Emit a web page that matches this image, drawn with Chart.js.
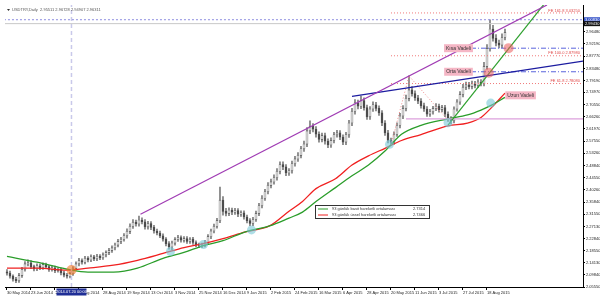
<!DOCTYPE html>
<html lang="tr">
<head>
<meta charset="utf-8">
<title>USDTRY Daily</title>
<script src="https://cdn.jsdelivr.net/npm/chart.js@4.4.1/dist/chart.umd.min.js"></script>
<style>
  html, body { margin: 0; padding: 0; background: #fff; }
  #wrap { width: 600px; height: 297px; position: relative; }
</style>
</head>
<body>
<div id="wrap"><canvas id="usdtryChart"></canvas></div>
<script>
// usdtry daily chart

// candles, one every 2 trading days (bar index = 2 * k)
const opens = [
  2.110,2.105,2.094,2.083,2.078,2.096,2.118,2.138,2.142,2.128,
  2.120,2.131,2.124,2.135,2.128,2.118,2.124,2.114,2.118,2.106,
  2.098,2.094,2.103,2.122,2.138,2.150,2.144,2.158,2.152,2.163,
  2.156,2.165,2.160,2.170,2.178,2.186,2.195,2.205,2.218,2.226,
  2.238,2.254,2.272,2.286,2.280,2.294,2.288,2.270,2.282,2.268,
  2.255,2.248,2.238,2.226,2.210,2.198,2.212,2.225,2.232,2.222,
  2.228,2.218,2.226,2.214,2.206,2.204,2.205,2.215,2.235,2.255,
  2.272,2.292,2.365,2.325,2.318,2.330,2.322,2.328,2.315,2.320,
  2.305,2.292,2.282,2.296,2.318,2.345,2.372,2.395,2.418,2.430,
  2.445,2.468,2.492,2.484,2.462,2.470,2.495,2.512,2.525,2.548,
  2.565,2.612,2.628,2.618,2.600,2.582,2.595,2.575,2.562,2.578,
  2.598,2.605,2.590,2.572,2.598,2.640,2.682,2.712,2.700,2.720,
  2.695,2.662,2.690,2.705,2.692,2.676,2.640,2.605,2.578,2.572,
  2.600,2.632,2.665,2.692,2.728,2.758,2.745,2.730,2.718,2.702,
  2.690,2.672,2.680,2.692,2.700,2.688,2.695,2.672,2.655,2.648,
  2.690,2.715,2.742,2.768,2.776,2.770,2.780,2.774,2.786,2.780,
  2.842,2.905,2.975,2.942,2.925,2.918,2.945
];
const highs = [
  2.118,2.112,2.099,2.090,2.104,2.126,2.146,2.152,2.150,2.134,
  2.138,2.137,2.142,2.141,2.133,2.131,2.130,2.124,2.123,2.112,
  2.104,2.109,2.128,2.145,2.158,2.156,2.165,2.164,2.170,2.168,
  2.172,2.171,2.177,2.184,2.193,2.202,2.212,2.225,2.233,2.246,
  2.263,2.281,2.296,2.294,2.308,2.302,2.296,2.290,2.289,2.275,
  2.262,2.255,2.245,2.232,2.217,2.219,2.232,2.240,2.238,2.235,
  2.235,2.232,2.233,2.220,2.212,2.212,2.222,2.242,2.262,2.280,
  2.300,2.412,2.378,2.336,2.338,2.337,2.336,2.335,2.327,2.327,
  2.312,2.299,2.304,2.326,2.354,2.381,2.404,2.428,2.440,2.455,
  2.478,2.502,2.502,2.492,2.478,2.504,2.521,2.535,2.557,2.576,
  2.624,2.648,2.638,2.627,2.609,2.604,2.604,2.584,2.587,2.607,
  2.614,2.613,2.598,2.607,2.650,2.692,2.724,2.722,2.736,2.730,
  2.704,2.699,2.716,2.714,2.701,2.684,2.649,2.614,2.586,2.609,
  2.641,2.675,2.702,2.740,2.808,2.770,2.755,2.739,2.727,2.711,
  2.699,2.689,2.700,2.709,2.708,2.703,2.703,2.680,2.663,2.698,
  2.724,2.752,2.778,2.786,2.785,2.790,2.789,2.795,2.795,2.856,
  2.920,3.008,2.988,2.955,2.936,2.958,2.975
];
const lows = [
  2.098,2.087,2.076,2.071,2.072,2.090,2.112,2.131,2.121,2.113,
  2.114,2.117,2.118,2.121,2.111,2.112,2.107,2.108,2.099,2.091,
  2.087,2.088,2.097,2.116,2.131,2.137,2.138,2.145,2.146,2.149,
  2.149,2.153,2.154,2.163,2.171,2.179,2.188,2.198,2.210,2.219,
  2.230,2.246,2.264,2.272,2.272,2.280,2.262,2.262,2.260,2.247,
  2.241,2.231,2.219,2.202,2.190,2.189,2.205,2.218,2.215,2.215,
  2.211,2.211,2.207,2.199,2.196,2.196,2.198,2.208,2.228,2.248,
  2.265,2.285,2.312,2.309,2.310,2.313,2.314,2.306,2.307,2.297,
  2.284,2.274,2.274,2.289,2.310,2.337,2.364,2.387,2.409,2.422,
  2.436,2.459,2.474,2.452,2.453,2.461,2.486,2.503,2.516,2.539,
  2.556,2.602,2.608,2.590,2.572,2.573,2.565,2.552,2.553,2.569,
  2.590,2.581,2.563,2.563,2.589,2.631,2.672,2.690,2.691,2.686,
  2.653,2.653,2.681,2.683,2.667,2.631,2.596,2.569,2.562,2.564,
  2.592,2.623,2.656,2.683,2.719,2.736,2.721,2.709,2.693,2.681,
  2.664,2.664,2.672,2.684,2.679,2.680,2.663,2.646,2.638,2.640,
  2.682,2.706,2.733,2.759,2.762,2.762,2.765,2.766,2.772,2.772,
  2.832,2.896,2.932,2.915,2.908,2.909,2.936
];
const closes = [
  2.105,2.094,2.083,2.078,2.096,2.118,2.138,2.142,2.128,2.120,
  2.131,2.124,2.135,2.128,2.118,2.124,2.114,2.118,2.106,2.098,
  2.094,2.103,2.122,2.138,2.150,2.144,2.158,2.152,2.163,2.156,
  2.165,2.160,2.170,2.178,2.186,2.195,2.205,2.218,2.226,2.238,
  2.254,2.272,2.286,2.280,2.294,2.288,2.270,2.282,2.268,2.255,
  2.248,2.238,2.226,2.210,2.198,2.212,2.225,2.232,2.222,2.228,
  2.218,2.226,2.214,2.206,2.204,2.205,2.215,2.235,2.255,2.272,
  2.292,2.365,2.325,2.318,2.330,2.322,2.328,2.315,2.320,2.305,
  2.292,2.282,2.296,2.318,2.345,2.372,2.395,2.418,2.430,2.445,
  2.468,2.492,2.484,2.462,2.470,2.495,2.512,2.525,2.548,2.565,
  2.612,2.628,2.618,2.600,2.582,2.595,2.575,2.562,2.578,2.598,
  2.605,2.590,2.572,2.598,2.640,2.682,2.712,2.700,2.720,2.695,
  2.662,2.690,2.705,2.692,2.676,2.640,2.605,2.578,2.572,2.600,
  2.632,2.665,2.692,2.728,2.758,2.745,2.730,2.718,2.702,2.690,
  2.672,2.680,2.692,2.700,2.688,2.695,2.672,2.655,2.648,2.690,
  2.715,2.742,2.768,2.776,2.770,2.780,2.774,2.786,2.780,2.842,
  2.905,2.975,2.942,2.925,2.918,2.945,2.963
];
const bars = closes.map((c, k) => k * 2);

// 93 day moving averages
const maBars = [0,20,40,54,71,87,104,118,131,144,159,175,188,197,206,219,230,241,252,263,276,294,307,316,323,332];
const smaValues = [2.1648,2.1438,2.1192,2.1087,2.1087,2.1227,2.1577,2.1787,2.2032,2.2207,2.2522,2.2732,2.3012,2.3223,2.3600,2.4098,2.4518,2.4903,2.5400,2.6000,2.6320,2.6547,2.6687,2.6862,2.7037,2.7314];
const emaValues = [2.1227,2.1227,2.1157,2.1227,2.1332,2.1507,2.1752,2.1962,2.2102,2.2277,2.2522,2.2732,2.3257,2.3607,2.4062,2.4412,2.4902,2.5230,2.5500,2.5777,2.5987,2.6302,2.6400,2.6600,2.6950,2.7466];

// axis labels
const tickBars = [0,16,32,48,64,80,96,112,128,144,160,176,192,208,224,240,256,272,288,304,320];
const tickDates = ['30 May 2014','23 Jun 2014','15 Jul 2014','6 Aug 2014','28 Aug 2014','19 Sep 2014','13 Oct 2014',
  '3 Nov 2014','25 Nov 2014','16 Dec 2014','9 Jan 2015','2 Feb 2015','24 Feb 2015','16 Mar 2015','6 Apr 2015',
  '28 Apr 2015','20 May 2015','11 Jun 2015','3 Jul 2015','27 Jul 2015','18 Aug 2015'];
const priceTicks = [2.05550,2.09840,2.14130,2.18550,2.22840,2.27130,2.31550,2.35840,2.40260,2.44550,2.48840,
  2.53260,2.57550,2.61970,2.66260,2.70550,2.74970,2.79190,2.83480,2.87770,2.92190,2.96480];

// drawn objects
const purpleBars = [89, 360], purplePrices = [2.315, 3.061];
const blueBars = [230, 384], bluePrices = [2.735, 2.861];
const greenBars = [294, 360], greenPrices = [2.633, 3.077];
const zigzagBars = [256, 268, 296], zigzagPrices = [2.562, 2.808, 2.638];
const feLevels = ['61.8', '100.0', '161.8'];
const fePrices = [2.78080, 2.87980, 3.03250];
const noteTexts = ['Kısa Vadeli', 'Orta Vadeli', 'Uzun Vadeli'];
const noteBars = [301, 301, 342.4];
const notePrices = [2.9068, 2.8228, 2.7388];
const tealBars = [109, 131, 163, 255, 294, 322.5];
const tealPrices = [2.182, 2.207, 2.259, 2.564, 2.641, 2.711];
const redBars = [334.4, 321.2];
const redPrices = [2.907, 2.819];
const orangeBars = [43];
const orangePrices = [2.116];
const markerBar = 43;
const markerDate = '2014.07.20 00:00';
const highLine = 3.0083;
const askLine = 2.9943;
const supportLine = 2.6548;

const headerText = 'USDTRY,Daily  2.95511 2.96728 2.94907 2.96311';
const smaLabel = '93 günlük basit hareketli ortalaması';
const emaLabel = '93 günlük üssel hareketli ortalaması';

const X_MIN = -1.32, X_MAX = 384, Y_MIN = 2.0555, Y_MAX = 3.0608;
const FONT = '"Liberation Sans", Arial, sans-serif';

document.addEventListener('DOMContentLoaded', function() {
    initializeChart();
});

// Function to build a two point line dataset
function segment(xv, yv, color, width, dash, order) {
    return {
        type: 'line',
        data: xv.map((v, k) => ({x: v, y: yv[k]})),
        borderColor: color,
        borderWidth: width,
        borderDash: dash,
        pointRadius: 0,
        fill: false,
        tension: 0,
        order: order
    };
}

// Function to build circle markers
function circles(xv, yv, color, radius) {
    return {
        type: 'scatter',
        data: xv.map((v, k) => ({x: v, y: yv[k]})),
        backgroundColor: color,
        borderWidth: 0,
        pointRadius: radius,
        order: 0
    };
}

// Function to draw the texts and boxes on top
const overlayPlugin = {
    id: 'overlay',
    afterDraw(chart) {
        const ctx = chart.ctx;
        const xs = chart.scales.x, ys = chart.scales.y;
        const area = chart.chartArea;
        ctx.save();
        ctx.textBaseline = 'middle';

        // header
        ctx.fillStyle = '#333';
        ctx.beginPath();
        ctx.moveTo(area.left + 2, area.top + 4);
        ctx.lineTo(area.left + 5, area.top + 4);
        ctx.lineTo(area.left + 3.5, area.top + 6);
        ctx.fill();
        ctx.font = '4px ' + FONT;
        ctx.fillStyle = '#555';
        ctx.textAlign = 'left';
        ctx.fillText(headerText, area.left + 7, area.top + 5);

        // fibo expansion labels
        ctx.fillStyle = '#e04a4a';
        ctx.textAlign = 'right';
        fePrices.forEach((p, k) => {
            ctx.fillText('FE ' + feLevels[k] + ' ' + p.toFixed(5), area.right - 3, ys.getPixelForValue(p) - 2.5);
        });

        // notes
        ctx.font = '5px ' + FONT;
        ctx.textAlign = 'center';
        noteTexts.forEach((t, k) => {
            const cx = xs.getPixelForValue(noteBars[k]);
            const cy = ys.getPixelForValue(notePrices[k]);
            const w = ctx.measureText(t).width + 4;
            ctx.fillStyle = '#f5b6c5';
            ctx.fillRect(cx - w / 2, cy - 4, w, 8);
            ctx.fillStyle = '#333';
            ctx.fillText(t, cx, cy + 0.3);
        });

        // legend box
        const lx = area.left + 310, ly = area.top + 200;
        ctx.fillStyle = '#fff';
        ctx.fillRect(lx, ly, 115, 14);
        ctx.strokeStyle = '#333';
        ctx.lineWidth = 1;
        ctx.strokeRect(lx + 0.5, ly + 0.5, 114, 13);
        ctx.font = '4px ' + FONT;
        ctx.textAlign = 'left';
        [[smaLabel, smaValues, '#2a9d2a', 4], [emaLabel, emaValues, '#f02020', 10]].forEach(row => {
            ctx.strokeStyle = row[2];
            ctx.beginPath();
            ctx.moveTo(lx + 3, ly + row[3]);
            ctx.lineTo(lx + 13, ly + row[3]);
            ctx.stroke();
            ctx.fillStyle = '#333';
            ctx.fillText(row[0], lx + 17, ly + row[3]);
            ctx.fillText(row[1][row[1].length - 1].toFixed(4), lx + 98, ly + row[3]);
        });

        // price boxes on the axis
        [[highLine, '#3553c8'], [askLine, '#111']].forEach(m => {
            const py = ys.getPixelForValue(m[0]);
            ctx.fillStyle = m[1];
            ctx.fillRect(area.right + 1, py - 2.5, 16, 5);
            ctx.fillStyle = '#fff';
            ctx.fillText(m[0].toFixed(5), area.right + 2, py);
        });

        // date box on the time axis
        const mx = xs.getPixelForValue(markerBar);
        ctx.fillStyle = '#1f2e96';
        ctx.fillRect(mx - 15, area.bottom + 1.5, 30, 7);
        ctx.fillStyle = '#fff';
        ctx.textAlign = 'center';
        ctx.fillText(markerDate, mx, area.bottom + 5);
        ctx.restore();
    }
};

// Function to initialize the chart
function initializeChart() {
    const ctx = document.getElementById('usdtryChart').getContext('2d');
    const bodyColors = closes.map((c, k) => c >= opens[k] ? '#f4f4f4' : '#4a4a4a');

    const datasets = [
        circles(tealBars, tealPrices, 'rgba(120,200,215,0.6)', 4.5),
        circles(redBars, redPrices, 'rgba(235,90,90,0.55)', 5),
        circles(orangeBars, orangePrices, 'rgba(245,120,40,0.6)', 5),
        segment(purpleBars, purplePrices, '#a03cb4', 1.2, [], 2),
        segment(blueBars, bluePrices, '#1c1ca0', 1.2, [], 2),
        segment(greenBars, greenPrices, '#2ea02e', 1.2, [], 2),
        segment(zigzagBars, zigzagPrices, '#f08a8a', 1, [1, 2], 2),
        segment([-2, 390], [highLine, highLine], '#8c8ce0', 1, [2, 2], 3),
        segment([-2, 390], [askLine, askLine], '#c8c8c8', 1, [], 3),
        segment([296, 390], [notePrices[0], notePrices[0]], '#5a64dc', 1, [5, 2, 1, 2], 3),
        segment([296, 390], [notePrices[1], notePrices[1]], '#5a64dc', 1, [5, 2, 1, 2], 3),
        segment([266, 390], [supportLine, supportLine], '#dca0dc', 1.2, [], 3),
        segment([markerBar, markerBar], [Y_MIN, Y_MAX], '#c9c9ea', 1.5, [4, 3], 3)
    ];
    fePrices.forEach(p => datasets.push(segment([256, 390], [p, p], '#f07878', 1, [1, 2], 3)));

    datasets.push({
        type: 'line',
        data: maBars.map((b, k) => ({x: b, y: smaValues[k]})),
        borderColor: '#2a9d2a',
        borderWidth: 1.3,
        pointRadius: 0,
        cubicInterpolationMode: 'monotone',
        order: 5
    });
    datasets.push({
        type: 'line',
        data: maBars.map((b, k) => ({x: b, y: emaValues[k]})),
        borderColor: '#f02020',
        borderWidth: 1.3,
        pointRadius: 0,
        cubicInterpolationMode: 'monotone',
        order: 5
    });
    datasets.push({
        type: 'bar',
        data: bars.map((b, k) => ({x: b, y: [opens[k], closes[k]]})),
        backgroundColor: bodyColors,
        borderColor: '#505050',
        borderWidth: 0.6,
        borderSkipped: false,
        barThickness: 2,
        grouped: false,
        order: 8
    });
    datasets.push({
        type: 'bar',
        data: bars.map((b, k) => ({x: b, y: [lows[k], highs[k]]})),
        backgroundColor: '#6a6a6a',
        borderWidth: 0,
        barThickness: 0.8,
        grouped: false,
        order: 9
    });

    window.usdtryChart = new Chart(ctx, {
        type: 'line',
        data: {datasets: datasets},
        plugins: [overlayPlugin],
        options: {
            responsive: true,
            maintainAspectRatio: false,
            animation: false,
            devicePixelRatio: 1,
            layout: {padding: 0},
            plugins: {legend: {display: false}, tooltip: {enabled: false}},
            scales: {
                x: {
                    type: 'linear',
                    min: X_MIN,
                    max: X_MAX,
                    offset: false,
                    afterBuildTicks: s => { s.ticks = tickBars.map(v => ({value: v})); },
                    afterFit: s => { s.height = 10; s.paddingLeft = 0; s.paddingRight = 0; },
                    grid: {drawOnChartArea: false, offset: false, tickLength: 3, color: '#000'},
                    border: {display: true, color: '#000', width: 1},
                    ticks: {
                        autoSkip: false,
                        maxRotation: 0,
                        align: 'start',
                        padding: 0,
                        color: '#222',
                        font: {size: 4, family: FONT},
                        callback: v => tickDates[tickBars.indexOf(v)]
                    }
                },
                y: {
                    type: 'linear',
                    position: 'right',
                    min: Y_MIN,
                    max: Y_MAX,
                    afterBuildTicks: s => { s.ticks = priceTicks.map(v => ({value: v})); },
                    afterFit: s => { s.width = 17; s.paddingTop = 0; s.paddingBottom = 0; },
                    grid: {drawOnChartArea: false, tickLength: 2, color: '#000'},
                    border: {display: true, color: '#000', width: 1},
                    ticks: {
                        padding: 1,
                        color: '#222',
                        font: {size: 4, family: FONT},
                        callback: v => v.toFixed(5)
                    }
                }
            }
        }
    });
}
</script>
</body>
</html>
